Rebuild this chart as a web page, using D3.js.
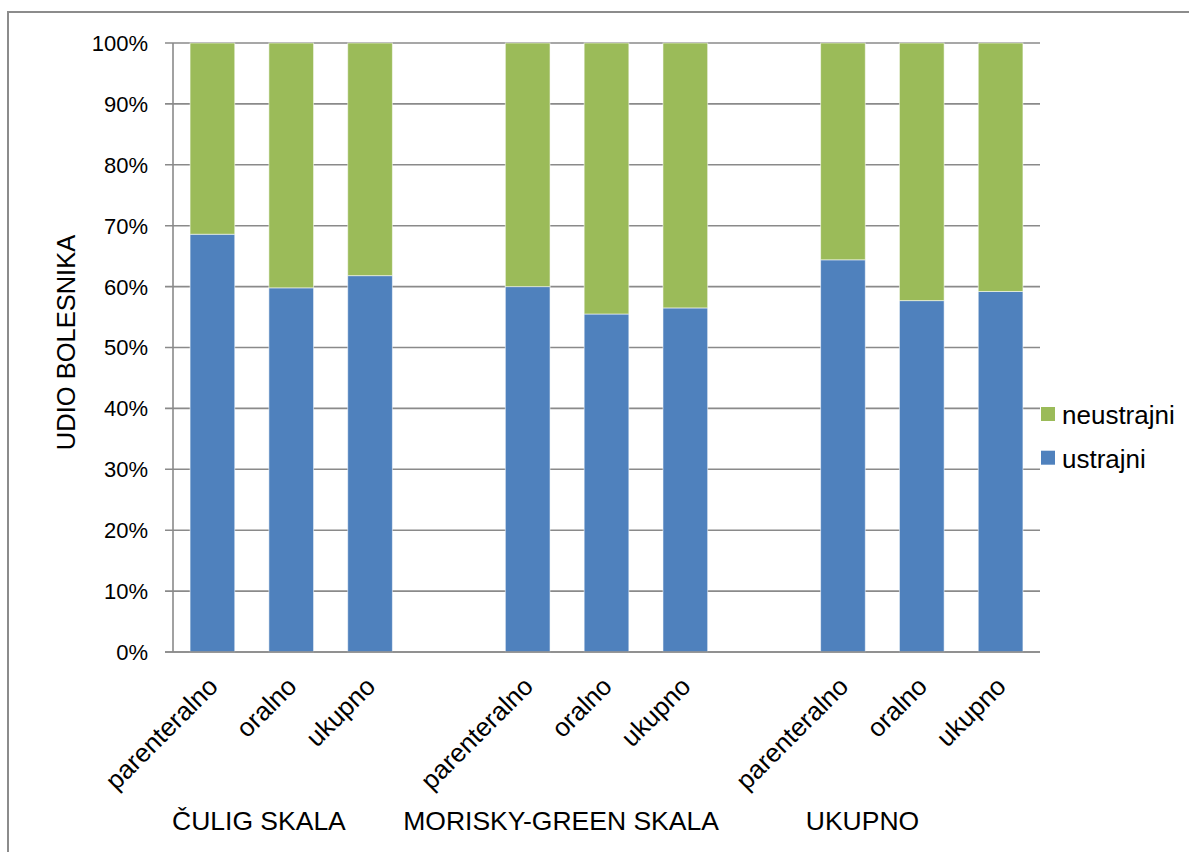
<!DOCTYPE html>
<html>
<head>
<meta charset="utf-8">
<script src="https://cdn.jsdelivr.net/npm/d3@7"></script>
<style>
  html, body { margin: 0; padding: 0; background: #fff; }
  svg { display: block; font-family: "Liberation Sans", Arial, sans-serif; }
</style>
</head>
<body>
<svg id="chart" width="1189" height="852"></svg>
<script>
// ---- data ----
const groups = ["ČULIG SKALA", "MORISKY-GREEN SKALA", "UKUPNO"];
const subcategories = ["parenteralno", "oralno", "ukupno"];
const ustrajni   = [68.6, 59.8, 61.8, 60.0, 55.5, 56.5, 64.4, 57.7, 59.2];
const neustrajni = [31.4, 40.2, 38.2, 40.0, 44.5, 43.5, 35.6, 42.3, 40.8];
const yTicks = [0, 10, 20, 30, 40, 50, 60, 70, 80, 90, 100];
const seriesNames = ["ustrajni", "neustrajni"];
const seriesColors = ["#4F81BD", "#9BBB59"];
const yAxisTitle = "UDIO BOLESNIKA";

// ---- build slots (with empty gap slots between groups) ----
const slots = [];
const rows = [];
groups.forEach((g, gi) => {
  if (gi > 0) slots.push("gap" + gi);
  subcategories.forEach((s, si) => {
    const key = g + "|" + s;
    slots.push(key);
    const i = gi * subcategories.length + si;
    rows.push({ key, group: g, sub: s, ustrajni: ustrajni[i], neustrajni: neustrajni[i] });
  });
});

const svg = d3.select("#chart");
const plot = { left: 173, right: 1040, top: 43, bottom: 652 };

const x = d3.scaleBand().domain(slots).range([plot.left, plot.right])
  .paddingInner(0.433).paddingOuter(0.2165);
const y = d3.scaleLinear().domain([0, 100]).range([plot.bottom, plot.top]);

// outer border
svg.append("rect").attr("x", 8).attr("y", 12).attr("width", 1200).attr("height", 900)
  .attr("fill", "none").attr("stroke", "#8c8c8c").attr("stroke-width", 2);

// gridlines
svg.append("g").selectAll("line").data(yTicks).join("line")
  .attr("x1", plot.left - 8).attr("x2", plot.right)
  .attr("y1", d => y(d)).attr("y2", d => y(d))
  .attr("stroke", "#8a8a8a").attr("stroke-width", 1.6);

// y axis line
svg.append("line").attr("x1", plot.left).attr("x2", plot.left)
  .attr("y1", plot.top).attr("y2", plot.bottom)
  .attr("stroke", "#8a8a8a").attr("stroke-width", 1.6);

// stacked bars
const stack = d3.stack().keys(seriesNames);
const stacked = stack(rows);
svg.append("g").selectAll("g").data(stacked).join("g")
  .attr("fill", (d, i) => seriesColors[i])
  .selectAll("rect").data(d => d).join("rect")
  .attr("x", d => x(d.data.key))
  .attr("width", x.bandwidth())
  .attr("y", d => y(d[1]))
  .attr("height", d => y(d[0]) - y(d[1]))
  .attr("stroke", "rgba(255,255,255,0.55)").attr("stroke-width", 1);

// x axis line
svg.append("line").attr("x1", plot.left - 8).attr("x2", plot.right)
  .attr("y1", plot.bottom).attr("y2", plot.bottom)
  .attr("stroke", "#8a8a8a").attr("stroke-width", 1.6);

// y tick labels
svg.append("g").selectAll("text").data(yTicks).join("text")
  .attr("x", 148).attr("y", d => y(d)).attr("dy", "0.36em")
  .attr("text-anchor", "end").attr("font-size", 22).attr("fill", "#000")
  .text(d => d + "%");

// x category labels (rotated)
svg.append("g").selectAll("text").data(rows).join("text")
  .attr("text-anchor", "end").attr("font-size", 26).attr("fill", "#000")
  .attr("transform", d => `translate(${x(d.key) + x.bandwidth() / 2 + 7},${688}) rotate(-45)`)
  .text(d => d.sub);

// group title line
const sp = n => " ".repeat(n);
svg.append("text").attr("x", 172).attr("y", 830)
  .attr("font-size", 26.5).attr("fill", "#000")
  .style("white-space", "pre")
  .text(groups[0] + sp(8) + groups[1] + sp(12) + groups[2]);

// y axis title
svg.append("text")
  .attr("transform", `translate(75, ${(plot.top + plot.bottom) / 2 - 5}) rotate(-90)`)
  .attr("text-anchor", "middle").attr("font-size", 25.5).attr("fill", "#000")
  .text(yAxisTitle);

// legend
const legendItems = [
  { name: seriesNames[1], color: seriesColors[1] },
  { name: seriesNames[0], color: seriesColors[0] }
];
const lg = svg.append("g").selectAll("g").data(legendItems).join("g")
  .attr("transform", (d, i) => `translate(1041, ${407 + i * 43.7})`);
lg.append("rect").attr("width", 14).attr("height", 14).attr("fill", d => d.color);
lg.append("text").attr("x", 21).attr("y", 17).attr("font-size", 26).attr("fill", "#000")
  .text(d => d.name);
</script>
</body>
</html>
